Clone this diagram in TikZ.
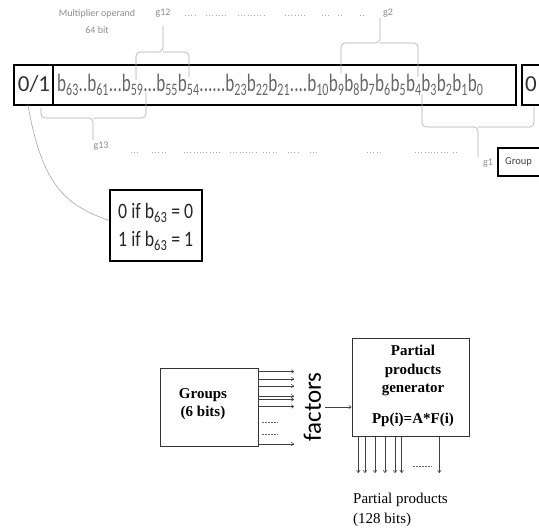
\documentclass[tikz,border=0pt]{standalone}
\usepackage{fontspec}
\setmainfont{Liberation Serif}
\newfontfamily\calib{Carlito}
\usepackage{graphicx}
\usetikzlibrary{arrows.meta,calc}
\newcommand{\bsub}[1]{b\textsubscript{#1}}
\begin{document}
\begin{tikzpicture}[x=1pt,y=-1pt,
  br/.style={draw=gray!65, line width=0.6pt, rounded corners=4pt},
  arr/.style={draw=black!75, line width=0.5pt, -{To[length=3pt,width=4pt]}},
  dotrow/.style={draw=gray!70, line width=1pt, dash pattern=on 1pt off 2.2pt},
  small/.style={font=\calib\fontsize{10}{12}\selectfont, text=gray!90},
  big/.style={font=\calib\fontsize{23}{26}\selectfont},
  boldtxt/.style={font=\bfseries\fontsize{15}{18.5}\selectfont, align=center, inner sep=0},
  plain/.style={font=\fontsize{15}{20}\selectfont, inner sep=0}]
\useasboundingbox (0,0) rectangle (539,529);
\clip (0,0) rectangle (539,529);

% top labels
\node[small, inner sep=0] (mop) at (97,14) {Multiplier operand};
\node[small, inner sep=0] (mbit) at (97,30) {64 bit};
\node[small, inner sep=0] (g12) at (163,13) {g12};
\node[small, inner sep=0, anchor=west] (g2) at (383,13) {g2};

% dot rows
\foreach \a/\b in {185/197,206/227,238/265,285/305,322/330,338/343,360/365}
  \draw[dotrow] (\a,16) -- (\b,16);
\foreach \a/\b in {131/140,152/168,184/220,230/258,263/278,288/298,310/317,367/382,415/448,453/458}
  \draw[dotrow] (\a,153) -- (\b,153);

% main bar
\node[draw, line width=2.2pt, minimum width=502pt, minimum height=40pt, inner sep=0] (bar) at (265,85) {};
\draw[line width=1.8pt] (53,65) -- (53,105);
\node[big, text=black!80, anchor=base, inner sep=0] (z01) at (34,92) {0/1};
\node[font=\calib\fontsize{25}{28}\selectfont, text=black!60, anchor=base west, inner sep=0] (bits) at (57,92)
  {\resizebox{426pt}{\height}{\bsub{63}..\bsub{61}...\bsub{59}...\bsub{55}\bsub{54}......\bsub{23}\bsub{22}\bsub{21}....\bsub{10}\bsub{9}\bsub{8}\bsub{7}\bsub{6}\bsub{5}\bsub{4}\bsub{3}\bsub{2}\bsub{1}\bsub{0}}};
% next bar (cut)
\draw[line width=2.2pt] (560,65) -- (522,65) -- (522,105) -- (560,105);
\node[big, text=black!80, anchor=base, inner sep=0] (nz) at (531,92) {0};

% braces
\draw[br] (136,80) |- (163,52) -- (163,26);
\draw[br] (189,77) |- (163,52);
\draw[br] (341,73) |- (380,43) -- (380,18);
\draw[br] (418,77) |- (380,43);
\draw[br] (41,108) |- (93,118) -- (93,140);
\draw[br] (146,92) |- (93,118);
\draw[br] (422,95) |- (478,127) -- (478,157);
\draw[br] (534,107) |- (478,127);
\node[small, inner sep=0] (g13) at (101,146) {g13};
\node[small, inner sep=0] (g1) at (488,163) {g1};

% group box (cut)
\draw[line width=2.5pt] (560,148) -- (498,148) -- (498,176) -- (560,176);
\node[font=\calib\fontsize{10.5}{12}\selectfont, text=black!75, inner sep=0] (grouplbl) at (518.5,162) {Group};

% condition box
\node[draw, line width=2pt, minimum width=92pt, minimum height=71pt, inner sep=0] (cond) at (156,225.5) {};
\node[font=\calib\fontsize{22}{28}\selectfont, text=black!85, anchor=base west, inner sep=0] (cl1) at (118,219)
  {\resizebox{75pt}{\height}{0 if \bsub{63} = 0}};
\node[font=\calib\fontsize{22}{28}\selectfont, text=black!85, anchor=base west, inner sep=0] (cl2) at (118,247)
  {\resizebox{75pt}{\height}{1 if \bsub{63} = 1}};
\coordinate (cstart) at (28,105);
\draw[gray!70, line width=0.6pt] (cstart) .. controls (42,185) and (65,205) .. ($(cond.west)+(0,-5)$);

% lower diagram
\node[draw=black!80, line width=1pt, minimum width=98pt, minimum height=78pt, inner sep=0] (grp) at (209,408) {};
\node[boldtxt] (grptxt) at (203,404) {Groups\\(6 bits)};
\foreach \y in {371.5,379,386,396,399.5,406.5,444}
  \draw[arr] (258,\y) -- (294,\y);
\draw[black!60, line width=0.5pt, dash pattern=on 2pt off 1pt] (262,422) -- (278,422);
\draw[black!60, line width=0.5pt, dash pattern=on 2pt off 1pt] (262,434) -- (278,434);
\node[rotate=90, font=\calib\fontsize{25}{30}\selectfont, inner sep=0] (fac) at (312.5,407) {factors};

\node[draw=black!80, line width=1pt, minimum width=117pt, minimum height=98pt, inner sep=0] (pp) at (410.5,388) {};
\coordinate (facout) at (325,407);
\draw[arr] (facout) -- (pp.west |- facout);
\node[boldtxt] (pptxt) at (413,370.5) {Partial\\products\\generator};
\node[boldtxt] (ppf) at (413,420) {Pp(i)=A*F(i)};
\foreach \x in {358.3,365,375,385,395,401.7,439.3}
  \draw[arr] (\x,437) -- (\x,473);
\draw[black!60, line width=0.5pt, dash pattern=on 2pt off 1pt] (413,466) -- (432,466);
\node[plain, anchor=west] (pplbl) at (353,500) {Partial products};
\node[plain, anchor=west] (pplbl2) at (353,520) {(128 bits)};
\end{tikzpicture}
\end{document}
